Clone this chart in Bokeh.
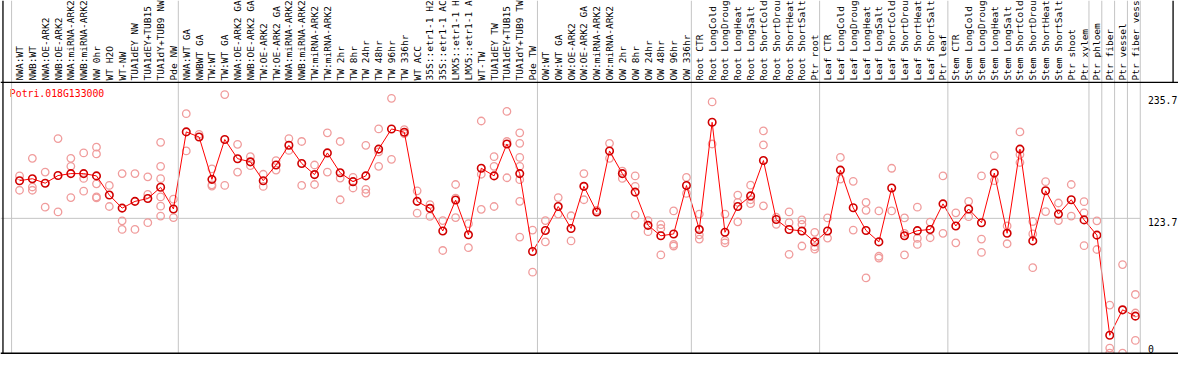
import math
from bokeh.plotting import figure
from bokeh.models import Range1d, Span
from bokeh.core.properties import value
from bokeh.embed import file_html
from bokeh.resources import INLINE

# ---------------- data ----------------
gene_id = "Potri.018G133000"

categories = [
    "NWA:WT", "NWB:WT", "NWA:OE-ARK2", "NWB:OE-ARK2", "NWA:miRNA-ARK2", "NWB:miRNA-ARK2",
    "NW 0hr", "WT H2O", "WT-NW", "TUA1dEY NW", "TUA1dEY+TUB15", "TUA1dY+TUB9 NW", "Pde NW",
    "NWA:WT GA", "NWBWT GA", "TW:WT", "TW:WT GA", "NWA:OE-ARK2 GA", "NWB:OE-ARK2 GA",
    "TW:OE-ARK2", "TW:OE-ARK2 GA", "NWA:miRNA-ARK2", "NWB:miRNA-ARK2", "TW:miRNA-ARK2",
    "TW:miRNA-ARK2", "TW 2hr", "TW 8hr", "TW 24hr", "TW 48hr", "TW 96hr", "TW 336hr",
    "WT ACC", "35S::etr1-1 H2", "35S::etr1-1 AC", "LMX5::etr1-1 H", "LMX5::etr1-1 A",
    "WT-TW", "TUA1dEY TW", "TUA1dEY+TUB15", "TUA1dY+TUB9 TW", "Pde TW",
    "OW:WT", "OW:WT GA", "OW:OE-ARK2", "OW:OE-ARK2 GA", "OW:miRNA-ARK2", "OW:miRNA-ARK2",
    "OW 2hr", "OW 8hr", "OW 24hr", "OW 48hr", "OW 96hr", "OW 336hr",
    "Root CTR", "Root LongCold", "Root LongDroug", "Root LongHeat", "Root LongSalt",
    "Root ShortCold", "Root ShortDrou", "Root ShortHeat", "Root ShortSalt", "Ptr root",
    "Leaf CTR", "Leaf LongCold", "Leaf LongDroug", "Leaf LongHeat", "Leaf LongSalt",
    "Leaf ShortCold", "Leaf ShortDrou", "Leaf ShortHeat", "Leaf ShortSalt", "Ptr leaf",
    "Stem CTR", "Stem LongCold", "Stem LongDroug", "Stem LongHeat", "Stem LongSalt",
    "Stem ShortCold", "Stem ShortDrou", "Stem ShortHeat", "Stem ShortSalt", "Ptr shoot",
    "Ptr xylem", "Ptr phloem", "Ptr fiber", "Ptr vessel", "Ptr fiber vess",
]

group_sizes = [13, 28, 12, 10, 10, 11, 1, 1, 1, 1]

means = [
    158.3, 160.1, 156.0, 163.0, 164.8, 164.8, 162.7, 145.1, 133.1, 139.3, 141.9, 152.2, 132.3,
    203.1, 198.4, 159.5, 196.1, 178.5, 175.6, 158.3, 172.7, 190.8, 174.1, 163.9, 183.8, 165.6,
    157.4, 162.7, 187.3, 205.8, 202.8, 139.3, 132.9, 112.1, 140.5, 108.6, 169.7, 162.7, 192.0,
    164.8, 93.3,
    112.6, 134.6, 114.4, 153.1, 129.6, 185.6, 164.8, 147.8, 117.3, 107.7, 109.4, 153.9,
    113.5, 211.9, 110.9, 134.6, 144.3, 176.8, 122.6, 113.5, 112.1, 102.1,
    112.1, 168.0, 133.4, 112.6, 102.1, 151.6, 107.7, 112.4, 113.5, 137.0,
    116.7, 132.3, 119.7, 165.3, 110.0, 187.3, 103.0, 149.0, 127.6, 140.8, 122.3,
    108.3, 16.3, 39.7, 33.9,
]

replicates = [
    [162.7, 149.5], [178.8, 152.5, 149.5], [166.2, 134.0], [197.0, 129.6],
    [178.8, 171.5, 142.8], [183.8, 160.4, 148.7], [189.1, 182.9, 155.4, 143.4, 142.5],
    [153.9, 134.6], [164.8, 121.4, 113.5], [164.8, 113.5], [161.8, 145.7, 119.7],
    [193.5, 171.5, 160.1, 143.4, 134.9, 125.8], [141.3, 124.4],
    [219.8, 185.6], [200.8], [169.2, 154.5, 153.3], [237.4, 153.9], [191.7, 166.2],
    [180.3, 172.1], [164.2, 153.0], [176.8, 168.0], [197.0, 186.1], [194.3, 153.9],
    [172.7, 154.8], [202.2, 166.2], [194.3, 160.7, 140.8], [161.3, 151.6],
    [190.8, 150.4, 146.9], [205.8, 184.7, 171.5], [233.9, 177.9], [205.2, 201.4],
    [149.0, 128.5], [136.4, 125.5], [121.7, 94.2], [154.8, 142.2, 124.4], [118.8, 96.8],
    [213.1, 164.2, 132.0], [180.3, 171.5, 134.6], [221.9, 194.3, 161.0],
    [202.2, 192.6, 179.7, 171.5, 159.2, 139.3, 106.5], [112.9, 74.3],
    [121.7, 102.1], [142.8, 127.6], [126.1, 103.0], [164.8, 140.8], [131.1],
    [192.6, 178.8], [167.1, 160.4], [162.7, 153.1, 126.7], [121.7, 111.5],
    [117.9, 114.4, 90.1], [130.5, 99.8, 98.3], [161.3, 146.6],
    [127.6, 108.6, 104.7], [230.6, 192.0], [127.6, 103.6, 101.2], [145.1, 138.4, 120.5],
    [154.2, 140.8, 137.2], [204.0, 191.1, 135.2], [124.7, 118.2], [129.6, 119.7, 90.7],
    [122.3, 118.2, 98.3], [110.9, 97.7, 95.4],
    [124.1, 105.6], [179.7, 159.8], [157.7, 112.9], [138.4, 131.1, 69.0],
    [130.5, 88.9, 87.2], [169.7, 130.5], [124.1, 110.0, 90.1], [134.0, 105.3, 99.8],
    [120.3, 105.9], [162.7, 110.0],
    [128.8, 101.2], [139.3, 125.2], [162.7, 104.7, 92.4], [181.2, 158.3], [116.7, 100.4],
    [203.1, 182.3, 175.0], [120.8, 109.4, 78.4], [157.4, 129.9], [137.8, 121.7],
    [154.8, 125.8], [139.0, 128.8, 98.6],
    [121.4, 95.1], [44.1, 4.6, 0.0], [81.3, 0.0], [53.8, 36.8, 11.6],
]

tick_values = [235.7, 123.7]
tick_labels = ["235.7", "123.7"]
zero_label = "0"

# ---------------- layout helpers (reference pixel geometry) ----------------
W, H = 1178, 354
REF_W, REF_H = 1194, 370
X0, DX = 19.3, 13.0       # centre of first column, column pitch
Y0, KY = 368.5, 1.1382    # pixel row of value 0, pixels per unit


def dx(xr):
    return (xr - X0) / DX


def dy(yr):
    return (Y0 - yr) / KY


MONO = value("DejaVu Sans Mono")
n = len(categories)

p = figure(width=W, height=H,
           x_range=Range1d(dx(0), dx(REF_W)), y_range=Range1d(dy(REF_H), dy(0)),
           output_backend="svg", toolbar_location=None,
           x_axis_type=None, y_axis_type=None,
           min_border=0, min_border_left=0, min_border_right=0,
           min_border_top=0, min_border_bottom=0,
           outline_line_color=None, background_fill_color="white")

# group separators (grey)
bounds = [-1]
acc = -1
for g in group_sizes:
    acc += g
    bounds.append(acc)
for b in bounds:
    p.add_layout(Span(location=b + 0.38, dimension="height",
                      line_color="#c4c4c4", line_width=1))

# horizontal grey guide at middle tick
p.segment(x0=[dx(0)], y0=[tick_values[1]], x1=[bounds[-1] + 0.38], y1=[tick_values[1]],
          line_color="#c4c4c4", line_width=1)

# black frame lines
p.add_layout(Span(location=dx(2.5), dimension="height", line_color="black", line_width=1.3))
p.add_layout(Span(location=dy(85.5), dimension="width", line_color="black", line_width=1.3))
p.add_layout(Span(location=dy(368.7), dimension="width", line_color="black", line_width=1.3))
p.segment(x0=[dx(1188.5)], y0=[dy(85.5)], x1=[dx(1188.5)], y1=[dy(0)],
          line_color="black", line_width=1.3)

# category labels (vertical)
p.text(x=list(range(n)), y=[dy(83.5)] * n, text=categories, angle=math.pi / 2,
       text_align="left", text_baseline="middle", text_font=MONO,
       text_font_size="9.5px", text_color="black")

# tick labels on the right
p.text(x=[dx(1163)] * len(tick_values), y=tick_values, text=tick_labels,
       text_align="left", text_baseline="top", text_font=MONO,
       text_font_size="9.8px", text_color="black")
p.text(x=[dx(1163)], y=[0], text=[zero_label], text_align="left", text_baseline="bottom",
       text_font=MONO, text_font_size="9.8px", text_color="black")

# gene id
p.text(x=[dx(9.5)], y=[dy(91.0)], text=[gene_id], text_align="left", text_baseline="top",
       text_font=MONO, text_font_size="9.8px", text_color="#ff0000")

# replicate points
rx, ry = [], []
for i, reps in enumerate(replicates):
    for v in reps:
        rx.append(i)
        ry.append(v)
p.scatter(rx, ry, marker="circle", size=7.5, fill_color=None,
          line_color="#f09c9c", line_width=1.3)

# mean line + markers
p.line(list(range(n)), means, line_color="#ff0000", line_width=1)
p.scatter(list(range(n)), means, marker="circle", size=7.5, fill_color=None,
          line_color="#d00000", line_width=1.6)

open("out.html", "w").write(file_html(p, INLINE, "chart"))
